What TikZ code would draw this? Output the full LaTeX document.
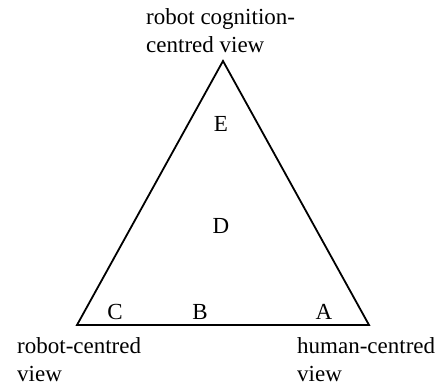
\documentclass[tikz,border=0pt]{standalone}
\usepackage{fontspec}
\setmainfont{Liberation Serif}
\usepackage{tikz}
\usetikzlibrary{positioning}

\begin{document}
\begin{tikzpicture}[x=1pt,y=1pt,
  viewlabel/.style={anchor=base west,inner sep=0pt,align=left,font=\fontsize{23}{28.5}\selectfont},
  zonelabel/.style={anchor=base,inner sep=0pt,font=\fontsize{23}{28.5}\selectfont}]
\useasboundingbox (0,0) rectangle (446,387);
\coordinate (apex) at (223,326);
\coordinate (lcorner) at (77,62);
\coordinate (rcorner) at (369,62);
\draw[line width=1.8pt,line join=miter] (apex) -- (rcorner) -- (lcorner) -- cycle;
\node[viewlabel] (cognition) at (146,334) {robot cognition-\\centred view};
\node[viewlabel] (robotc) at (17,5) {robot-centred\\view};
\node[viewlabel] (humanc) at (297,5) {human-centred\\view};
\node[zonelabel] (E) at (221,255) {E};
\node[zonelabel] (D) at (221,153) {D};
\node[zonelabel] (C) at (115,67) {C};
\node[zonelabel] (B) at (200,67) {B};
\node[zonelabel] (A) at (324,67) {A};
\end{tikzpicture}
\end{document}
